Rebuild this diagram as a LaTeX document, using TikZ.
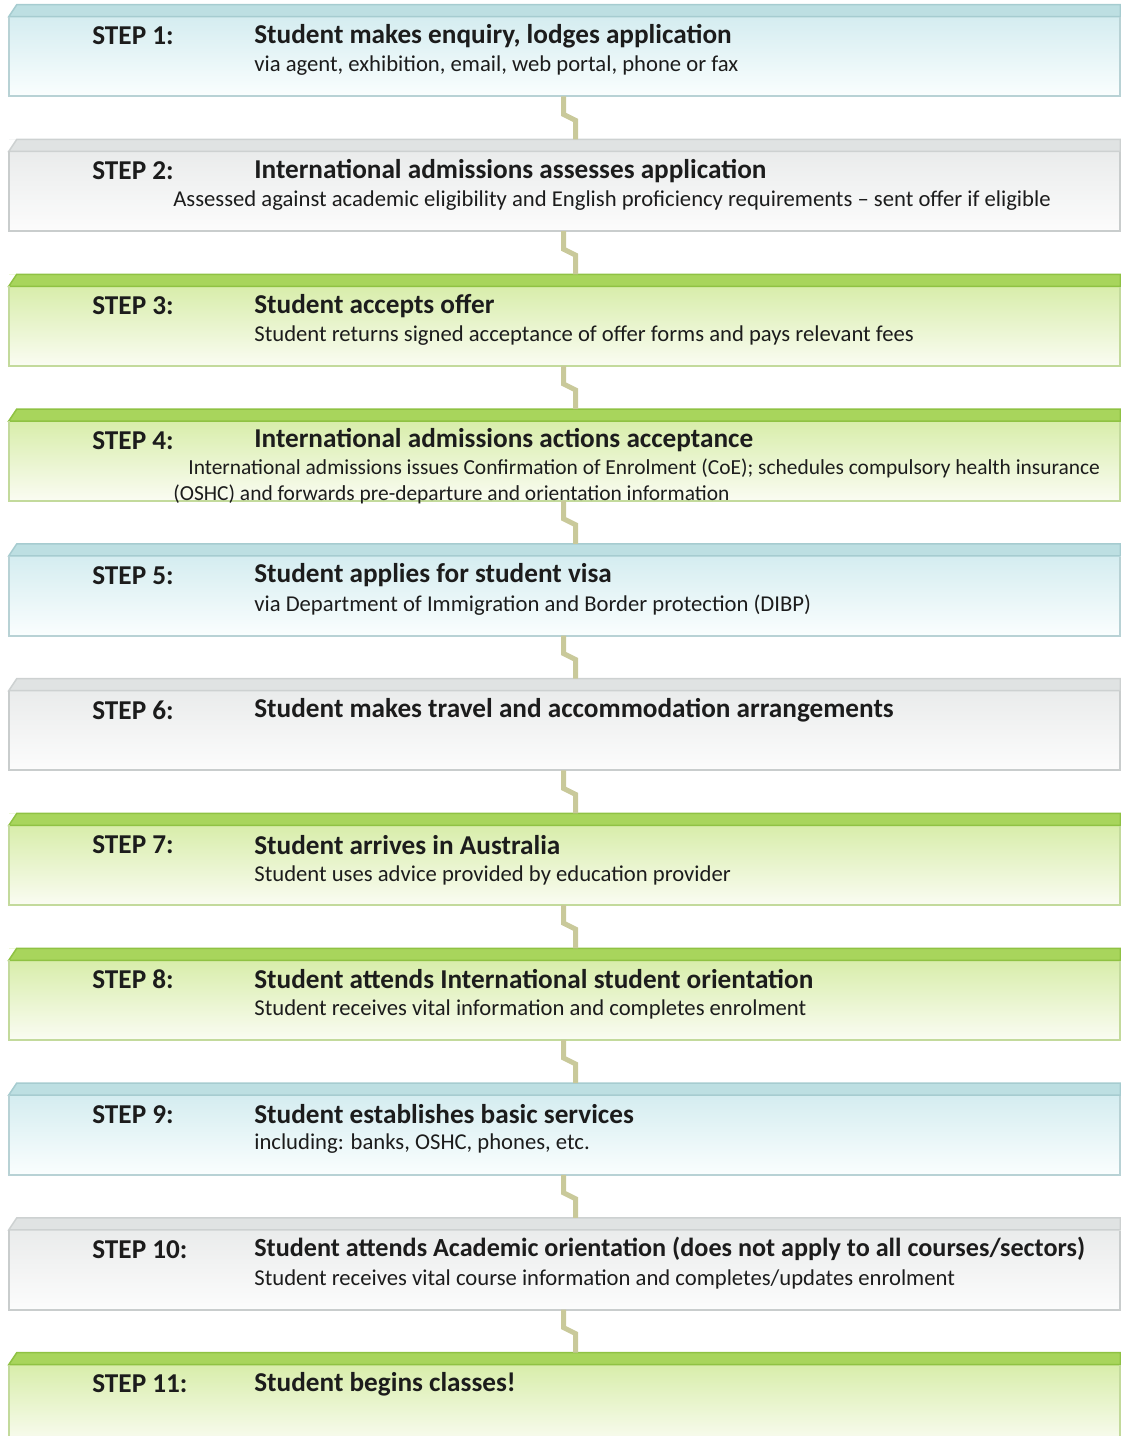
\documentclass[tikz,border=0pt]{standalone}
\usepackage{fontspec}
\setmainfont{Carlito}
\usetikzlibrary{calc}
\definecolor{ink}{HTML}{1C1C1C}
\definecolor{blueT}{HTML}{BDDFE2}
\definecolor{blueS}{HTML}{A6CCD0}
\definecolor{blueA}{HTML}{CFEAEE}
\definecolor{blueB}{HTML}{FAFEFE}
\definecolor{blueL}{HTML}{B8D2D5}
\definecolor{greenT}{HTML}{A8D55C}
\definecolor{greenS}{HTML}{8FC243}
\definecolor{greenA}{HTML}{D3EBA0}
\definecolor{greenB}{HTML}{FAFCF2}
\definecolor{greenL}{HTML}{C3DA9C}
\definecolor{greyT}{HTML}{E0E3E3}
\definecolor{greyS}{HTML}{CDD1D1}
\definecolor{greyA}{HTML}{E7E9E9}
\definecolor{greyB}{HTML}{FCFCFC}
\definecolor{greyL}{HTML}{C9CDCD}
\definecolor{linkc}{HTML}{C9C99A}
\tikzset{
  stepbox/.style={draw=none, minimum width=22.22cm, minimum height=1.82cm, inner sep=0pt},
  blue box/.style={top color=blueA, bottom color=blueB},
  green box/.style={top color=greenA, bottom color=greenB},
  grey box/.style={top color=greyA, bottom color=greyB},
  blue cap/.style={fill=blueT, draw=blueS, line width=0.03cm},
  green cap/.style={fill=greenT, draw=greenS, line width=0.03cm},
  grey cap/.style={fill=greyT, draw=greyS, line width=0.03cm},
  blue edge/.style={draw=blueL, line width=0.04cm},
  green edge/.style={draw=greenL, line width=0.04cm},
  grey edge/.style={draw=greyL, line width=0.04cm},
  steplbl/.style={anchor=west, inner sep=0pt, text=ink, font=\bfseries\fontsize{15.5}{18}\selectfont},
  steptitle/.style={anchor=west, inner sep=0pt, text=ink, font=\bfseries\fontsize{15.5}{18}\selectfont},
  stepnote/.style={anchor=west, inner sep=0pt, text=ink, font=\fontsize{12.9}{15}\selectfont},
  link/.style={draw=linkc, line width=0.1cm},
}
\begin{document}
\begin{tikzpicture}[x=0.02cm, y=-0.02cm]
  \useasboundingbox (0,0) rectangle (1121,1436);
  \clip (0,0) rectangle (1121,1436);
  % boxes
  \foreach \n/\kind in {1/blue,2/grey,3/green,4/green,5/blue,6/grey,7/green,8/green,9/blue,10/grey,11/green} {
    \pgfmathsetmacro\ytop{5+134.8*(\n-1)}
    \node[stepbox, \kind\space box] (s\n) at (564.5,\ytop+45.5) {};
    \fill[white] (s\n.north west) -- ++(8,0) -- ++(-8,12) -- cycle;
    \filldraw[\kind\space cap] ($(s\n.north west)+(0,12)$) -- ++(8,-12) -- (s\n.north east) -- ++(0,12) -- cycle;
    \draw[\kind\space edge] ($(s\n.north west)+(0,12)$) |- (s\n.south east) -- ++(0,-79);
    \node[steplbl] (l\n) at (92,\ytop+31) {STEP \n:};
  }
  % connectors
  \foreach \b [remember=\b as \a (initially 1)] in {2,...,11} {
    \draw[link] ([shift={(-1,0)}]s\a.south) -- ++(0,18) -- ++(12,6) -- ([shift={(11,0)}]s\b.north);
  }
  % titles
  \node[steptitle] (t1) at (254,36) {Student makes enquiry, lodges application};
  \node[steptitle] (t2) at (254,171) {International admissions assesses application};
  \node[steptitle] (t3) at (254,306) {Student accepts offer};
  \node[steptitle] (t4) at (254,440) {International admissions actions acceptance};
  \node[steptitle] (t5) at (254,575) {Student applies for student visa};
  \node[steptitle] (t6) at (254,710) {Student makes travel and accommodation arrangements};
  \node[steptitle] (t7) at (254,845) {Student arrives in Australia};
  \node[steptitle] (t8) at (254,979) {Student attends International student orientation};
  \node[steptitle] (t9) at (254,1114) {Student establishes basic services};
  \node[steptitle, font=\bfseries\fontsize{14.9}{18}\selectfont] (t10) at (254,1249) {Student attends Academic orientation (does not apply to all courses/sectors)};
  \node[steptitle] (t11) at (254,1384) {Student begins classes!};
  % details
  \node[stepnote] (d1) at (254,66) {via agent, exhibition, email, web portal, phone or fax};
  \node[stepnote, anchor=center] (d2) at (612,201) {Assessed against academic eligibility and English proficiency requirements -- sent offer if eligible};
  \node[stepnote] (d3) at (254,336) {Student returns signed acceptance of offer forms and pays relevant fees};
  \node[stepnote, font=\fontsize{12.2}{14}\selectfont] (d4) at (188,468) {International admissions issues Confirmation of Enrolment (CoE); schedules compulsory health insurance};
  \node[stepnote, font=\fontsize{12.2}{14}\selectfont] (d4b) at (173,494) {(OSHC) and forwards pre-departure and orientation information};
  \node[stepnote] (d5) at (254,605) {via Department of Immigration and Border protection (DIBP)};
  \node[stepnote] (d7) at (254,875) {Student uses advice provided by education provider};
  \node[stepnote] (d8) at (254,1009) {Student receives vital information and completes enrolment};
  \node[stepnote] (d9) at (254,1144) {including: banks, OSHC, phones, etc.};
  \node[stepnote] (d10) at (254,1279) {Student receives vital course information and completes/updates enrolment};
\end{tikzpicture}
\end{document}
